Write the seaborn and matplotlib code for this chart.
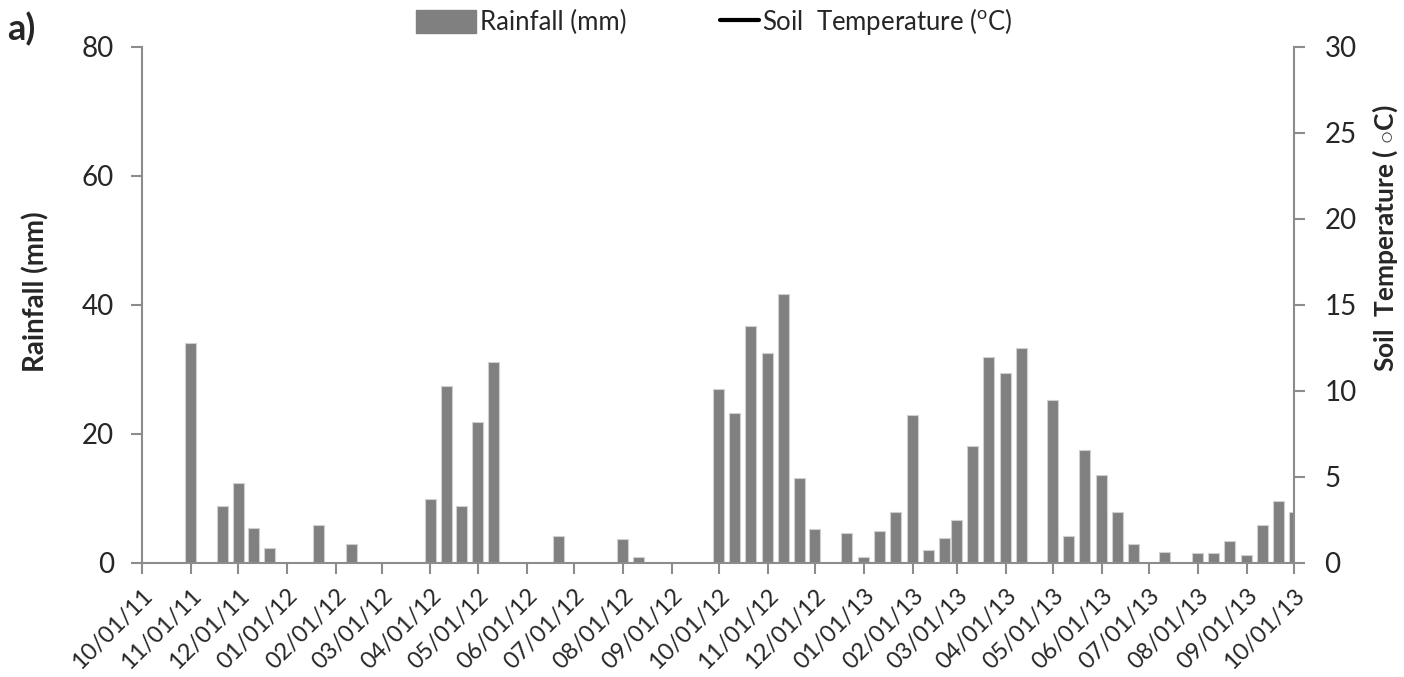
import matplotlib
matplotlib.use("Agg")
import matplotlib.pyplot as plt
import matplotlib.dates as mdates
from matplotlib.lines import Line2D
from matplotlib.patches import Patch
from matplotlib.legend_handler import HandlerLine2D
import seaborn as sns
import pandas as pd
import numpy as np

dates = ["2011-11-01", "2011-11-21", "2011-12-01", "2011-12-11", "2011-12-21",
         "2012-01-21", "2012-02-11", "2012-04-01", "2012-04-11", "2012-04-21",
         "2012-05-01", "2012-05-11", "2012-06-21", "2012-08-01", "2012-08-11",
         "2012-10-01", "2012-10-11", "2012-10-21", "2012-11-01", "2012-11-11",
         "2012-11-21", "2012-12-01", "2012-12-21", "2013-01-01", "2013-01-11",
         "2013-01-21", "2013-02-01", "2013-02-11", "2013-02-21", "2013-03-01",
         "2013-03-11", "2013-03-21", "2013-04-01", "2013-04-11", "2013-05-01",
         "2013-05-11", "2013-05-21", "2013-06-01", "2013-06-11", "2013-06-21",
         "2013-07-11", "2013-08-01", "2013-08-11", "2013-08-21", "2013-09-01",
         "2013-09-11", "2013-09-21", "2013-10-01"]
rainfall = [34.1, 8.9, 12.4, 5.4, 2.4,
            5.9, 2.9, 9.9, 27.4, 8.9,
            21.8, 31.1, 4.2, 3.7, 1.0,
            26.9, 23.2, 36.8, 32.6, 41.7,
            13.1, 5.2, 4.6, 1.0, 4.9,
            7.9, 22.9, 2.0, 3.8, 6.7,
            18.1, 31.9, 29.4, 33.4, 25.2,
            4.2, 17.5, 13.6, 7.9, 3.0,
            1.7, 1.5, 1.5, 3.4, 1.3,
            5.9, 9.6, 7.9]
left_ticks = [0, 20, 40, 60, 80]
right_ticks = [0, 5, 10, 15, 20, 25, 30]

sns.set_theme(style="white")
plt.rcParams['font.family'] = ['Lato', 'DejaVu Sans']
plt.rcParams['mathtext.fontset'] = 'custom'
plt.rcParams['mathtext.rm'] = 'Lato'

GRAY = '#808080'
AX = '#8c8c8c'

fig = plt.figure(figsize=(14.04, 6.77), dpi=100)
ax = fig.add_axes([0.1011, 0.1684, 0.8206, 0.7622])

df = pd.DataFrame({"date": mdates.date2num(pd.to_datetime(dates)), "rain": rainfall})
sns.barplot(data=df, x="date", y="rain", native_scale=True, width=7/8,
            color=GRAY, saturation=1, edgecolor='#d0d0d0', linewidth=0.8, ax=ax)

start = mdates.date2num(pd.Timestamp("2011-10-01"))
end = mdates.date2num(pd.Timestamp("2013-10-01"))
ax.set_xlim(start, end)
ax.set_ylim(0, 80)
ax.set_yticks(left_ticks)
ax.xaxis.set_major_locator(mdates.MonthLocator())
ax.xaxis.set_major_formatter(mdates.DateFormatter('%m/%d/%y'))
ax.set_xlabel("")
ax.set_ylabel("Rainfall (mm)", fontsize=20, fontweight='bold')
ax.yaxis.set_label_coords(-0.080, 0.525)

ax2 = ax.twinx()
ax2.set_ylim(0, 30)
ax2.set_yticks(right_ticks)
ax2.set_ylabel("Soil  Temperature ( $\\circ$C)", fontsize=19, fontweight='bold')
ax2.yaxis.set_label_coords(1.066, 0.63)

for a in (ax, ax2):
    for s in a.spines.values():
        s.set_color(AX)
        s.set_linewidth(1.5)
    a.spines['top'].set_visible(False)
ax.spines['right'].set_visible(False)
ax2.spines['left'].set_visible(False)
ax2.spines['bottom'].set_visible(False)

ax.tick_params(axis='y', direction='out', length=8, width=1.5, color=AX, labelsize=20, pad=12, left=True)
ax.tick_params(axis='x', direction='out', length=8, width=1.5, color=AX, labelsize=17, pad=8, bottom=True)
ax2.tick_params(axis='y', direction='out', length=8, width=1.5, color=AX, labelsize=20, pad=14, right=True)
for lbl in ax.get_xticklabels():
    lbl.set_rotation(45)
    lbl.set_ha('right')
    lbl.set_rotation_mode('anchor')


class ShortLine(HandlerLine2D):
    def get_xdata(self, legend, xdescent, ydescent, width, height, fontsize):
        xd = np.array([-xdescent + width * 0.35, -xdescent + width])
        return xd, xd


line_handle = Line2D([0], [0], color='black', lw=3, label='Soil  Temperature ($^{\\mathrm{o}}$C)')
handles = [Patch(facecolor=GRAY, edgecolor=GRAY, label='Rainfall (mm)'), line_handle]
fig.legend(handles=handles, loc='center', bbox_to_anchor=(0.509, 0.968), ncol=2, frameon=False,
           fontsize=18.5, handlelength=2.33, handleheight=1.0, handletextpad=0.15, columnspacing=2.8,
           handler_map={line_handle: ShortLine()})

fig.text(0.005, 0.957, "a)", fontsize=26, fontweight='bold', va='center', ha='left')

fig.savefig("out.png", dpi=100)
